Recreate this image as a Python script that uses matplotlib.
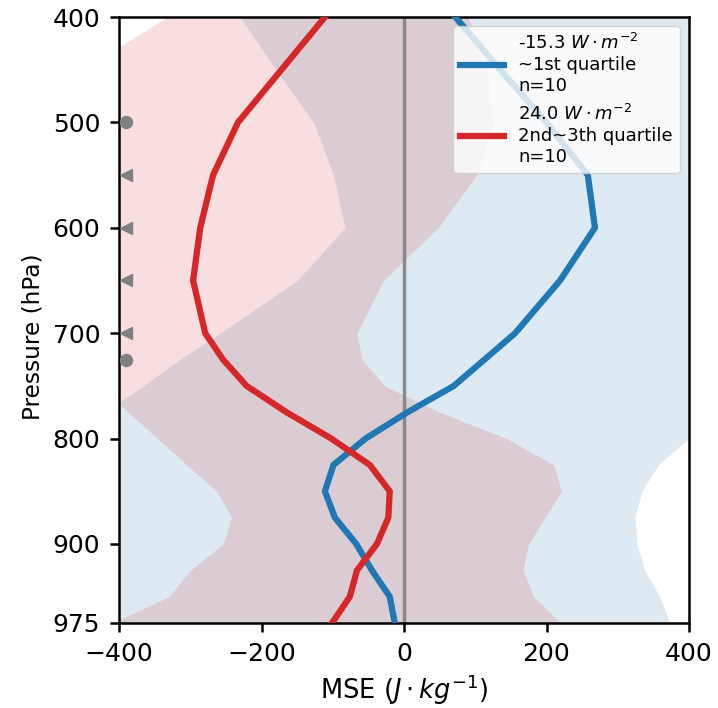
import matplotlib
matplotlib.use('Agg')
import matplotlib.pyplot as plt

# pressure levels (hPa)
levels = [400, 450, 500, 550, 600, 650, 700, 725, 750, 775, 800, 825, 850, 875, 900, 925, 950, 975]

# first quartile group (blue)
blue_mean = [72, 135, 200, 258, 268, 219, 156, 113, 70, 5, -54, -99, -111, -97, -67, -45, -20, -13]
blue_lo = [-230, -180, -127, -99, -83, -150, -258, -315, -366, -420, -450, -470, -480, -480, -480, -480, -480, -470]
blue_hi = [480, 480, 480, 480, 480, 480, 480, 470, 460, 440, 399, 357, 334, 324, 327, 338, 359, 373]

# 2nd-3th quartile group (red)
red_mean = [-111, -172, -233, -268, -286, -296, -279, -254, -221, -165, -102, -48, -20, -22, -38, -66, -76, -101]
red_lo = [-332, -452, -520, -540, -560, -560, -520, -470, -430, -387, -346, -305, -263, -242, -254, -300, -330, -410]
red_hi = [90, 116, 125, 102, 48, -29, -66, -59, -27, 50, 144, 210, 221, 198, 175, 167, 182, 219]

blue_label = '-15.3 $W\\cdot m^{-2}$\n~1st quartile\nn=10'
red_label = '24.0 $W\\cdot m^{-2}$\n2nd~3th quartile\nn=10'

# significance markers on the left edge
circle_levels = [500, 725]
triangle_levels = [550, 600, 650, 700]
marker_x = -390

fig = plt.figure(figsize=(7.18, 7.08), dpi=100)
ax = fig.add_axes([119 / 718, 1 - 623 / 708, 570 / 718, 606 / 708])

ax.fill_betweenx(levels, blue_lo, blue_hi, color='tab:blue', alpha=0.15, linewidth=0)
ax.fill_betweenx(levels, red_lo, red_hi, color='tab:red', alpha=0.15, linewidth=0)

ax.axvline(0, color='gray', linewidth=2.5, alpha=0.9, zorder=2)

ax.plot(blue_mean, levels, color='tab:blue', linewidth=4.5, label=blue_label, zorder=3)
ax.plot(red_mean, levels, color='tab:red', linewidth=4.5, label=red_label, zorder=3)

ax.plot([marker_x] * len(circle_levels), circle_levels, 'o', color='gray',
        markersize=8.6, linestyle='none', zorder=4)
ax.plot([marker_x] * len(triangle_levels), triangle_levels, '<', color='gray',
        markersize=9, linestyle='none', zorder=4)

ax.set_xlim(-400, 400)
ax.set_ylim(975, 400)
ax.set_xticks([-400, -200, 0, 200, 400])
ax.set_yticks([400, 500, 600, 700, 800, 900, 975])
ax.tick_params(labelsize=18, width=1.8, length=6.5, pad=7)
for sp in ax.spines.values():
    sp.set_linewidth(1.8)

ax.set_xlabel('MSE ($J\\cdot kg^{-1}$)', fontsize=18.5, labelpad=5)
ax.set_ylabel('Pressure (hPa)', fontsize=16.7, labelpad=6)
ax.yaxis.label.set_y(0.472)

ax.legend(loc='upper right', fontsize=13, handlelength=2.4)

plt.savefig('out.png', dpi=100, facecolor='white')
plt.close(fig)
